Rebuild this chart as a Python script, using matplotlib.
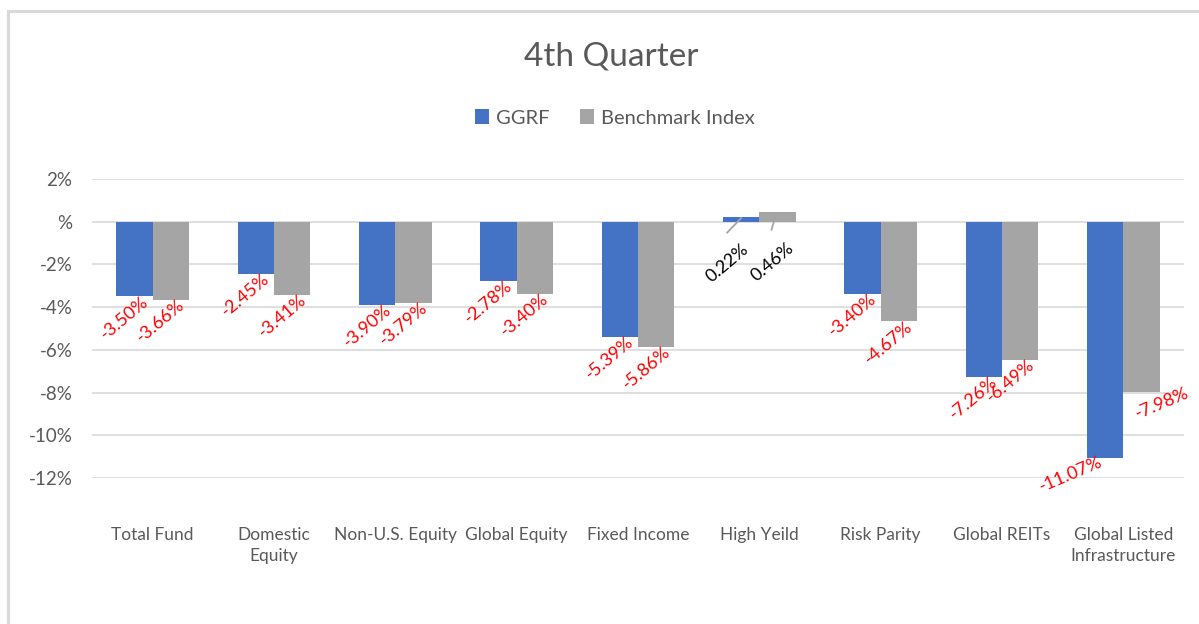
import matplotlib.pyplot as plt
import numpy as np
from matplotlib.patches import Rectangle

# chart data
categories = ["Total Fund", "Domestic\nEquity", "Non-U.S. Equity", "Global Equity",
              "Fixed Income", "High Yeild", "Risk Parity", "Global REITs",
              "Global Listed\nInfrastructure"]
ggrf = [-3.50, -2.45, -3.90, -2.78, -5.39, 0.22, -3.40, -7.26, -11.07]
benchmark = [-3.66, -3.41, -3.79, -3.40, -5.86, 0.46, -4.67, -6.49, -7.98]
yticks = [2, 0, -2, -4, -6, -8, -10, -12]
ytick_labels = ["2%", "%", "-2%", "-4%", "-6%", "-8%", "-10%", "-12%"]

blue = "#4472C4"
gray = "#A5A5A5"
txt = "#595959"

plt.rcParams['font.family'] = ['Lato', 'DejaVu Sans']

W, H = 1199, 624
fig = plt.figure(figsize=(W / 100, H / 100), dpi=100)
fig.patches.append(Rectangle((8 / W, -0.1), 1.2, 1.1 - 11 / H,
                             transform=fig.transFigure, fill=False,
                             edgecolor="#D9D9D9", linewidth=2.2))

ax = fig.add_axes([92 / W, 1 - 478 / H, (1184 - 92) / W, (478 - 179) / H])
x = np.arange(len(categories))
bw = 0.3
b1 = ax.bar(x - bw / 2, ggrf, bw, color=blue, label="GGRF", zorder=3)
b2 = ax.bar(x + bw / 2, benchmark, bw, color=gray, label="Benchmark Index", zorder=3)

ax.set_xlim(-0.5, len(categories) - 0.5)
ax.set_ylim(-12, 2)
ax.set_yticks(yticks)
ax.set_yticklabels(ytick_labels, fontsize=13.5, color=txt)
ax.grid(axis="y", color="#D9D9D9", linewidth=1.2, zorder=0)
for s in ax.spines.values():
    s.set_visible(False)
ax.tick_params(length=0)
ax.tick_params(axis="y", pad=14)
ax.set_xticks(x)
ax.set_xticklabels(categories, fontsize=12.5, color=txt, linespacing=1.45)
ax.tick_params(axis="x", pad=35)

# data labels below the bar ends; the two near the plot corner sit flatter and are nudged inside
nudge = {(8, 0): (-34, 16, 23), (8, 1): (21, 11, 23)}
for k, (xs, vals) in enumerate([(x - bw / 2, ggrf), (x + bw / 2, benchmark)]):
    for i, (xi, v) in enumerate(zip(xs, vals)):
        if v < 0:
            dx, dy, rot = nudge.get((i, k), (-10, 21, 40))
            ax.annotate(f"{v:.2f}%", (xi, v), xytext=(dx * 0.72, -dy * 0.72),
                        textcoords="offset points", ha="center", va="center",
                        rotation=rot, color="red", fontsize=13, annotation_clip=False)

# positive labels with leader lines
ax.annotate(f"{ggrf[5]:.2f}%", (x[5] - bw / 2, ggrf[5]), xytext=(-10, -33),
            textcoords="offset points", ha="center", va="center", rotation=40,
            fontsize=13, color="black")
ax.annotate(f"{benchmark[5]:.2f}%", (x[5] + bw / 2, benchmark[5]), xytext=(-4, -36),
            textcoords="offset points", ha="center", va="center", rotation=40,
            fontsize=13, color="black")
ax.plot([4.735, 4.85], [-0.51, 0.17], color=gray, lw=1.3, zorder=4)
ax.plot([5.10, 5.135], [-0.37, 0.28], color=gray, lw=1.3, zorder=4)

fig.text(611 / W, 1 - 57 / H, "4th Quarter", ha="center", va="center",
         fontsize=24, color=txt)
fig.legend(handles=[b1, b2], loc="center", bbox_to_anchor=(615 / W, 1 - 118 / H),
           ncol=2, frameon=False, fontsize=14.5, labelcolor=txt,
           handlelength=0.7, handleheight=0.7, handletextpad=0.35, columnspacing=1.5)

fig.savefig("out.png", dpi=100)
